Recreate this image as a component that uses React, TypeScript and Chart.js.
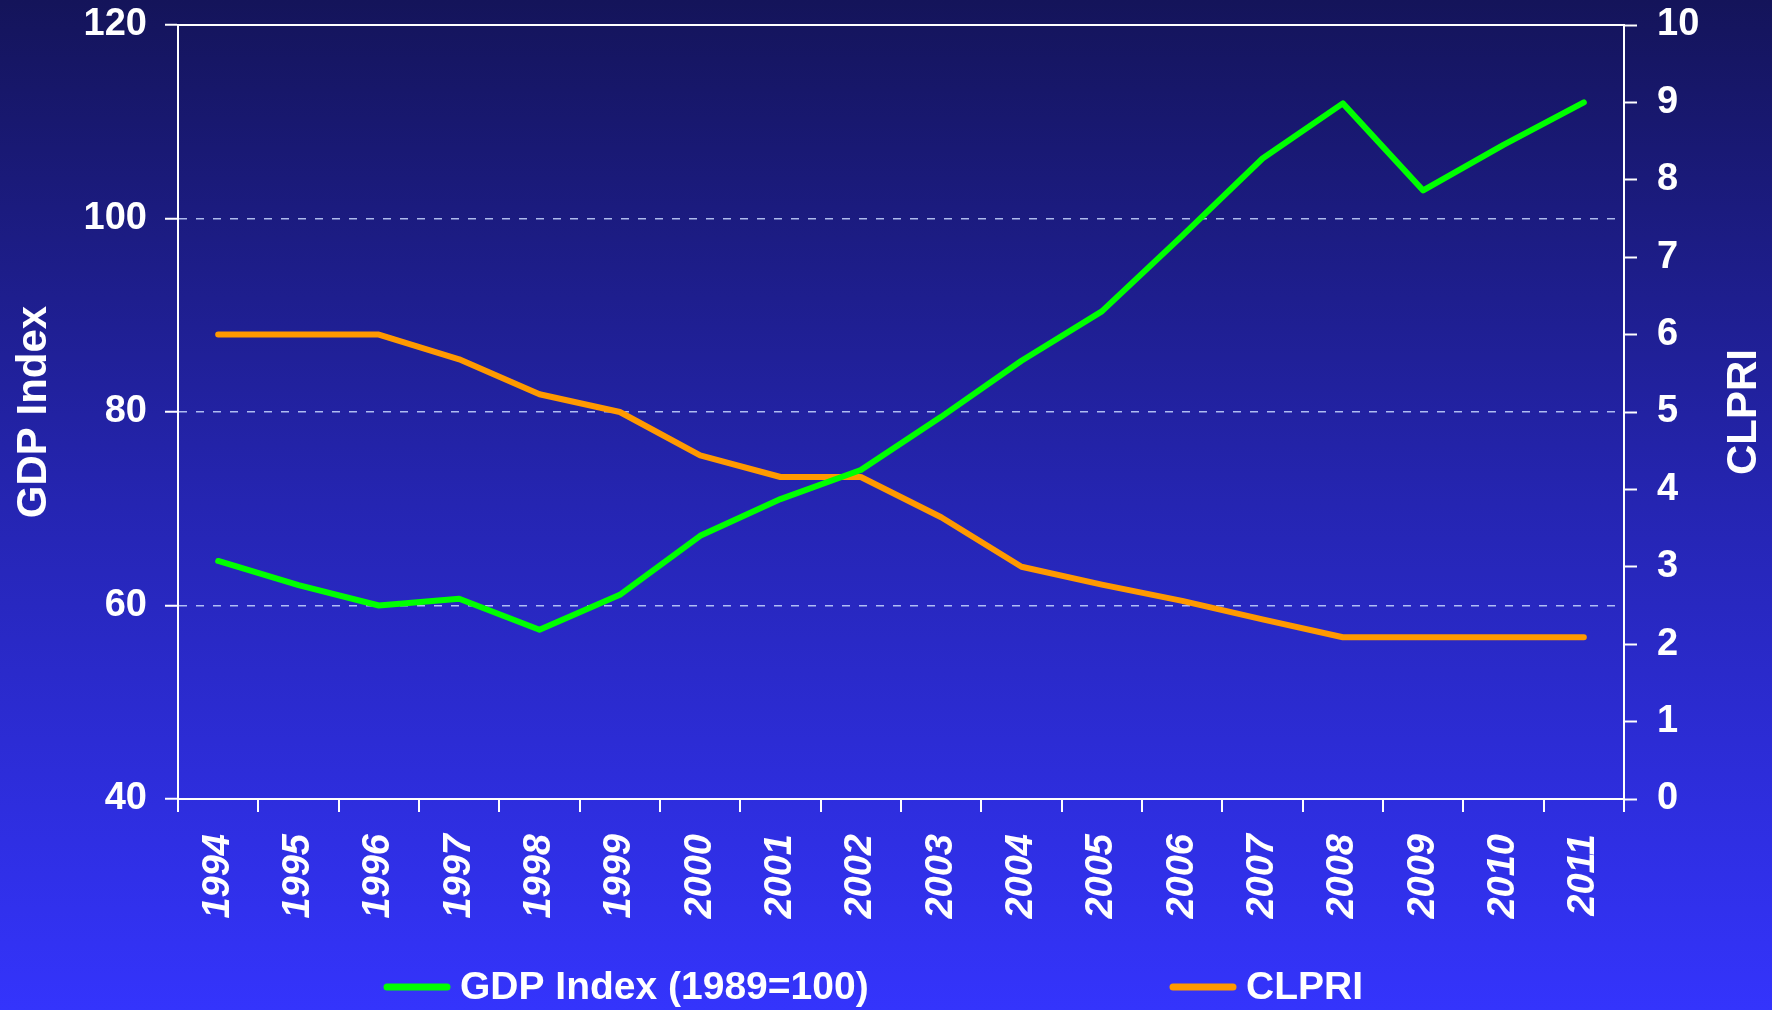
import React, { useEffect, useRef } from "react";
import { Chart, registerables } from "chart.js";

Chart.register(...registerables);

const years = ["1994","1995","1996","1997","1998","1999","2000","2001","2002","2003","2004","2005","2006","2007","2008","2009","2010","2011"];
const gdpIndex = [64.6, 62.1, 60.0, 60.7, 57.5, 61.1, 67.2, 71.0, 74.0, 79.5, 85.3, 90.4, 98.2, 106.2, 111.9, 102.9, 107.6, 112.0];
const clpri = [6.0, 6.0, 6.0, 5.68, 5.23, 5.0, 4.44, 4.16, 4.16, 3.64, 3.0, 2.77, 2.56, 2.32, 2.09, 2.09, 2.09, 2.09];
const leftTitle = "GDP Index";
const rightTitle = "CLPRI";
const gdpLabel = "GDP Index (1989=100)";
const clpriLabel = "CLPRI";

const FONT = "'Liberation Sans', Arial, sans-serif";

const bgPlugin = {
  id: "bg",
  beforeDraw(chart: any) {
    const { ctx, width, height } = chart;
    const g = ctx.createLinearGradient(0, 0, 0, height);
    g.addColorStop(0, "#14145a");
    g.addColorStop(0.5, "#2525b2");
    g.addColorStop(1, "#3434fc");
    ctx.save();
    ctx.fillStyle = g;
    ctx.fillRect(0, 0, width, height);
    ctx.restore();
  },
};

const extrasPlugin = {
  id: "extras",
  afterDraw(chart: any) {
    const { ctx, chartArea } = chart;
    const midY = (chartArea.top + chartArea.bottom) / 2;

    // top frame line
    ctx.save();
    ctx.strokeStyle = "#ffffff";
    ctx.lineWidth = 2;
    ctx.beginPath();
    ctx.moveTo(chartArea.left, chartArea.top);
    ctx.lineTo(chartArea.right, chartArea.top);
    ctx.stroke();
    ctx.restore();

    ctx.save();
    ctx.fillStyle = "#ffffff";
    ctx.font = `bold 42px ${FONT}`;
    ctx.textAlign = "center";
    ctx.textBaseline = "middle";
    ctx.translate(34, midY);
    ctx.rotate(-Math.PI / 2);
    ctx.fillText(leftTitle, 0, 0);
    ctx.restore();

    ctx.save();
    ctx.fillStyle = "#ffffff";
    ctx.font = `bold 42px ${FONT}`;
    ctx.textAlign = "center";
    ctx.textBaseline = "middle";
    ctx.translate(1744, midY);
    ctx.rotate(-Math.PI / 2);
    ctx.fillText(rightTitle, 0, 0);
    ctx.restore();

    // legend
    const items = chart.data.datasets.map((d: any) => ({ text: d.label, color: d.borderColor }));
    const starts = [384, 1170];
    const y = 987;
    ctx.save();
    ctx.font = `bold 39px ${FONT}`;
    ctx.textBaseline = "middle";
    ctx.textAlign = "left";
    items.forEach((it: any, i: number) => {
      const x = starts[i];
      ctx.strokeStyle = it.color;
      ctx.lineWidth = 7;
      ctx.lineCap = "round";
      ctx.beginPath();
      ctx.moveTo(x + 3, y);
      ctx.lineTo(x + 63, y);
      ctx.stroke();
      ctx.fillStyle = "#ffffff";
      ctx.fillText(it.text, x + 76, y + 1);
    });
    ctx.restore();
  },
};

export default function App() {
  const ref = useRef<HTMLCanvasElement>(null);
  useEffect(() => {
    document.body.style.margin = "0";
    document.body.style.overflow = "hidden";
    const canvas = ref.current!;
    const chart = new Chart(canvas, {
      type: "line",
      data: {
        labels: years,
        datasets: [
          {
            label: gdpLabel,
            data: gdpIndex,
            yAxisID: "y",
            borderColor: "#00ff00",
            backgroundColor: "#00ff00",
            borderWidth: 6,
            pointRadius: 0,
            borderCapStyle: "round",
            borderJoinStyle: "round",
            tension: 0,
          },
          {
            label: clpriLabel,
            data: clpri,
            yAxisID: "y1",
            borderColor: "#ff9900",
            backgroundColor: "#ff9900",
            borderWidth: 6,
            pointRadius: 0,
            borderCapStyle: "round",
            borderJoinStyle: "round",
            tension: 0,
          },
        ],
      },
      options: {
        responsive: false,
        animation: false,
        layout: { padding: { left: 0, right: 0, top: 25, bottom: 71 } },
        plugins: { legend: { display: false }, tooltip: { enabled: false } },
        scales: {
          x: {
            type: "category",
            offset: true,
            grid: {
              offset: true,
              drawOnChartArea: false,
              color: "#ffffff",
              tickColor: "#ffffff",
              tickLength: 13,
              lineWidth: 2,
            },
            border: { display: true, color: "#ffffff", width: 2 },
            ticks: {
              color: "#ffffff",
              font: { family: FONT, size: 38, weight: "bold", style: "italic" },
              minRotation: 90,
              maxRotation: 90,
              padding: 22,
              autoSkip: false,
            },
            afterFit(scale: any) {
              scale.height = 140;
              scale.paddingLeft = 0;
              scale.paddingRight = 0;
            },
          },
          y: {
            type: "linear",
            position: "left",
            min: 40,
            max: 120,
            ticks: {
              stepSize: 20,
              color: "#ffffff",
              font: { family: FONT, size: 38, weight: "bold" },
              padding: 18,
            },
            grid: {
              color: (ctx: any) => {
                const v = ctx.tick && ctx.tick.value;
                return v === 40 || v === 120 ? "rgba(0,0,0,0)" : "rgba(200,215,255,0.85)";
              },
              lineWidth: 1.5,
              tickColor: "#ffffff",
              tickLength: 13,
              tickWidth: 2,
              tickBorderDash: [],
            },
            border: { display: true, color: "#ffffff", width: 2, dash: [8, 9] },
            afterFit(scale: any) {
              scale.width = 178;
              scale.paddingTop = 0;
              scale.paddingBottom = 0;
            },
          },
          y1: {
            type: "linear",
            position: "right",
            min: 0,
            max: 10,
            ticks: {
              stepSize: 1,
              color: "#ffffff",
              font: { family: FONT, size: 38, weight: "bold" },
              padding: 20,
            },
            grid: {
              drawOnChartArea: false,
              color: "#ffffff",
              tickColor: "#ffffff",
              tickLength: 13,
              tickWidth: 2,
            },
            border: { display: true, color: "#ffffff", width: 2 },
            afterFit(scale: any) {
              scale.width = 148;
              scale.paddingTop = 0;
              scale.paddingBottom = 0;
            },
          },
        },
      },
      plugins: [bgPlugin, extrasPlugin],
    } as any);
    return () => chart.destroy();
  }, []);
  return (
    <div style={{ width: 1772, height: 1010 }}>
      <canvas ref={ref} width={1772} height={1010} style={{ display: "block" }} />
    </div>
  );
}
